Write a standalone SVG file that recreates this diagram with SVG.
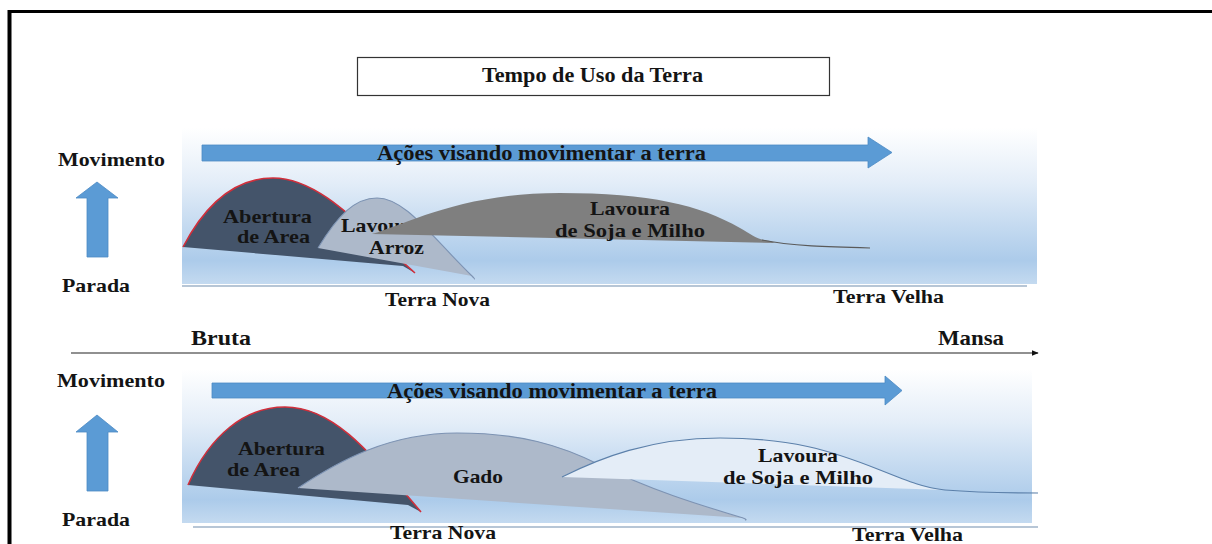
<svg xmlns="http://www.w3.org/2000/svg" width="1212" height="544" viewBox="0 0 1212 544">
<defs>
<linearGradient id="bg" x1="0" y1="0" x2="0" y2="1">
<stop offset="0" stop-color="#ffffff"/>
<stop offset="0.35" stop-color="#e3edf8"/>
<stop offset="0.85" stop-color="#accbea"/>
<stop offset="1" stop-color="#c4daf0"/>
</linearGradient>
<marker id="ah" viewBox="0 0 10 10" refX="9" refY="5" markerWidth="7" markerHeight="7" orient="auto" markerUnits="userSpaceOnUse">
<path d="M0,1 L10,5 L0,9 Z" fill="#111"/>
</marker>
</defs>
<style>
text{font-family:"Liberation Serif","Times New Roman",serif;font-weight:bold;fill:#141414;font-size:19px}
.t20{font-size:20px}
.t21{font-size:21px}
.panel{fill:url(#bg)}
.base{stroke:#9fb3c8;stroke-width:1.5;fill:none}
.blue{fill:#5b9bd5;stroke:#4d8ac4;stroke-width:0.8}
.ab{fill:#44546a}
.red{fill:none;stroke:#d12f3b;stroke-width:1.6}
.lg{fill:#adb9ca}
.lgs{fill:none;stroke:#7d93b3;stroke-width:1.1}
.gr{fill:#7f7f7f}
.tail{fill:none;stroke:#5a5a5a;stroke-width:1.2}
.lt{fill:#e4edf7}
.lts{fill:none;stroke:#5c80aa;stroke-width:1.1}
</style>
<rect width="1212" height="544" fill="#ffffff"/>
<g id="frame">
<line x1="8" y1="11.5" x2="1212" y2="11.5" stroke="#000" stroke-width="3"/>
<line x1="9.5" y1="10" x2="9.5" y2="544" stroke="#000" stroke-width="4"/>
</g>
<g id="title">
<rect x="357.5" y="57.5" width="472" height="38" fill="#fff" stroke="#333" stroke-width="1.2"/>
<text class="t20" x="482" y="82" textLength="221" lengthAdjust="spacingAndGlyphs">Tempo de Uso da Terra</text>
</g>
<g id="panel-top">
<rect class="panel" x="182" y="128" width="855" height="156"/>
<line class="base" x1="182" y1="286" x2="1027" y2="286"/>
</g>
<g id="panel-bottom">
<rect class="panel" x="182" y="369" width="850" height="154"/>
<line class="base" x1="193" y1="527" x2="1038" y2="527"/>
</g>
<g id="axis-top">
<text x="58" y="166" textLength="107" lengthAdjust="spacingAndGlyphs">Movimento</text>
<path class="blue" d="M87,257 L87,198 L76,198 L97,182 L118,198 L108,198 L108,257 Z"/>
<text x="62" y="292" textLength="68" lengthAdjust="spacingAndGlyphs">Parada</text>
</g>
<g id="axis-bottom">
<text x="57" y="387" textLength="108" lengthAdjust="spacingAndGlyphs">Movimento</text>
<path class="blue" d="M87,491 L87,432 L76,432 L97,415 L118,432 L108,432 L108,491 Z"/>
<text x="62" y="526" textLength="68" lengthAdjust="spacingAndGlyphs">Parada</text>
</g>
<g id="acoes-top">
<path class="blue" d="M202,145 L868,145 L868,137 L892,152.5 L868,168 L868,161 L202,161 Z"/>
<text class="t20" x="377" y="160" textLength="329" lengthAdjust="spacingAndGlyphs">Ações visando movimentar a terra</text>
</g>
<g id="acoes-bottom">
<path class="blue" d="M212,383 L885,383 L885,376 L902,390.5 L885,405 L885,398 L212,398 Z"/>
<text class="t20" x="387" y="398" textLength="330" lengthAdjust="spacingAndGlyphs">Ações visando movimentar a terra</text>
</g>
<g id="abertura-top">
<path class="ab" d="M183,247 C205,205 235,178 273,178 C315,178 350,215 415,273 L403,266 Z"/>
<path class="red" d="M183,247 C205,205 235,178 273,178 C315,178 350,215 415,273"/>
<text x="223" y="223" textLength="89" lengthAdjust="spacingAndGlyphs">Abertura</text>
<text x="237" y="243" textLength="73" lengthAdjust="spacingAndGlyphs">de Area</text>
</g>
<g id="arroz-top">
<path class="lg" d="M318,248 C338,215 355,198 377,198 C405,198 430,235 472,276 L318,248 Z"/>
<path class="lgs" d="M318,248 C338,215 355,198 377,198 C405,198 430,235 472,276 C474,278 475,279 474,279"/>
<text x="341" y="232" textLength="80" lengthAdjust="spacingAndGlyphs">Lavoura</text>
<text x="369" y="254" textLength="55" lengthAdjust="spacingAndGlyphs">Arroz</text>
</g>
<g id="soja-top">
<path class="gr" d="M372,234 C405,225 460,193 560,193 C650,193 700,205 740,228 C752,235 758,240 770,241 L775,243 Z"/>
<path class="tail" d="M762,240 C790,246 830,247 870,248"/>
<text x="590" y="215" textLength="80" lengthAdjust="spacingAndGlyphs">Lavoura</text>
<text x="555" y="237" textLength="150" lengthAdjust="spacingAndGlyphs">de Soja e Milho</text>
</g>
<g id="labels-top">
<text x="385" y="306" textLength="105" lengthAdjust="spacingAndGlyphs">Terra Nova</text>
<text x="833" y="303" textLength="111" lengthAdjust="spacingAndGlyphs">Terra Velha</text>
</g>
<g id="abertura-bottom">
<path class="ab" d="M188,485 C210,435 245,407 285,407 C330,407 365,445 421,512 L408,505 Z"/>
<path class="red" d="M188,485 C210,435 245,407 285,407 C330,407 365,445 421,512"/>
<text x="238" y="455" textLength="87" lengthAdjust="spacingAndGlyphs">Abertura</text>
<text x="227" y="476" textLength="73" lengthAdjust="spacingAndGlyphs">de Area</text>
</g>
<g id="gado-bottom">
<path class="lg" d="M298,488 C340,460 390,433 457,433 C520,433 560,445 600,465 C650,490 700,505 743,518 Z"/>
<path class="lgs" d="M298,488 C340,460 390,433 457,433 C520,433 560,445 600,465 C650,490 700,505 743,518 C746,519 747,520 745,520"/>
<text x="453" y="483" textLength="50" lengthAdjust="spacingAndGlyphs">Gado</text>
</g>
<g id="soja-bottom">
<path class="lt" d="M562,477 C600,458 650,438 720,438 C790,438 830,450 880,470 C910,482 925,488 945,490 L562,477 Z"/>
<path class="lts" d="M562,477 C600,458 650,438 720,438 C790,438 830,450 880,470 C910,482 925,488 945,490 C970,492 1000,493 1038,493"/>
<text x="758" y="462" textLength="80" lengthAdjust="spacingAndGlyphs">Lavoura</text>
<text x="723" y="484" textLength="150" lengthAdjust="spacingAndGlyphs">de Soja e Milho</text>
</g>
<g id="labels-bottom">
<text x="390" y="539" textLength="106" lengthAdjust="spacingAndGlyphs">Terra Nova</text>
<text x="852" y="541" textLength="111" lengthAdjust="spacingAndGlyphs">Terra Velha</text>
</g>
<g id="scale">
<text class="t21" x="191" y="345" textLength="60" lengthAdjust="spacingAndGlyphs">Bruta</text>
<text class="t21" x="938" y="345" textLength="66" lengthAdjust="spacingAndGlyphs">Mansa</text>
</g>
<g id="connectors">
<line x1="71" y1="353" x2="1038" y2="353" stroke="#222" stroke-width="1.2" marker-end="url(#ah)"/>
</g>
</svg>
